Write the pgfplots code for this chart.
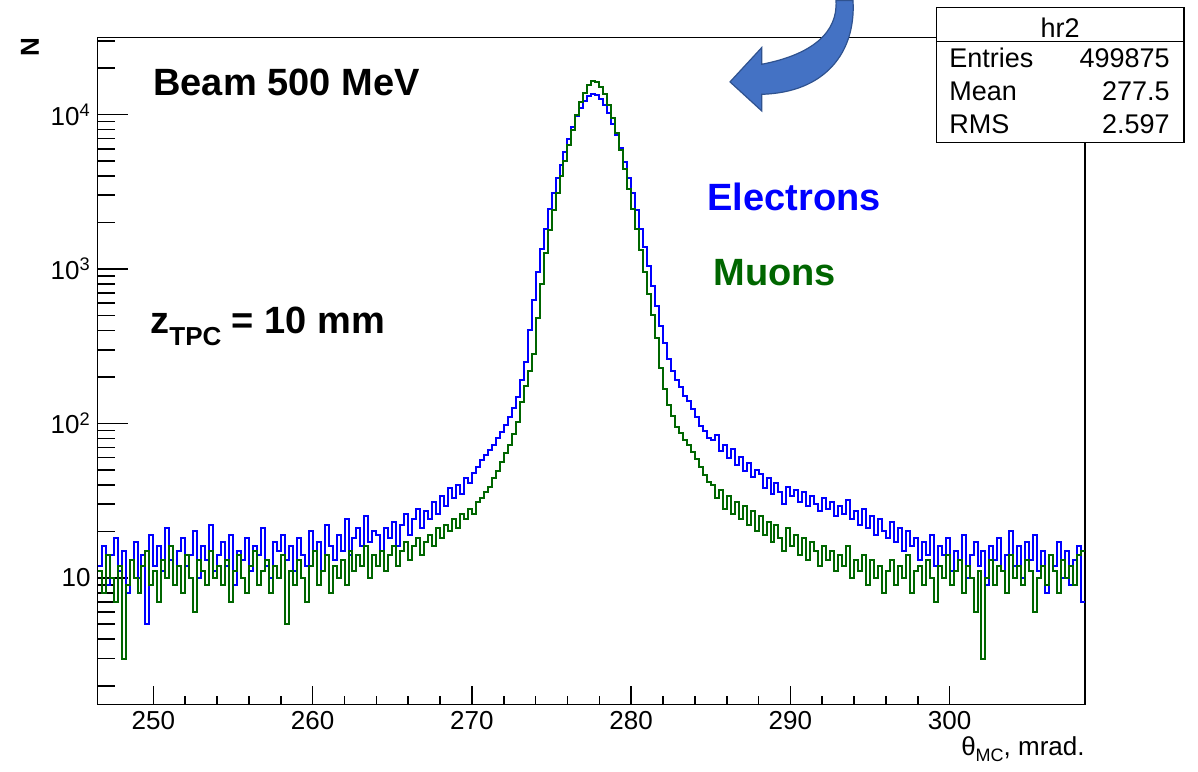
\documentclass[border=0pt]{standalone}
\usepackage{fontspec}
\setmainfont{Liberation Sans}
\usepackage{pgfplots}
\usepackage{pgfplotstable}
\pgfplotsset{compat=1.18}
\definecolor{rootblue}{rgb}{0,0,1}
\definecolor{rootgreen}{rgb}{0,0.4,0}
\definecolor{arrowfill}{RGB}{68,114,196}
\definecolor{arrowdraw}{RGB}{47,82,143}

% bin contents, bins of 0.25 mrad starting at 246.5 mrad
\pgfplotstableread{
blue green
12 11
16 8
9 14
14 10
18 7
11 12
15 3
8 9
13 13
17 10
10 8
14 12
5 15
19 9
12 11
16 7
11 13
21 10
13 16
9 9
15 12
18 8
12 14
14 10
20 6
10 13
16 11
13 9
22 15
11 10
14 12
17 9
12 13
19 7
9 11
15 14
13 10
18 8
11 12
16 15
14 9
21 11
12 13
10 8
17 12
15 10
19 14
13 5
16 11
11 9
18 13
14 10
12 7
20 12
15 15
17 9
11 11
22 14
16 8
13 12
19 10
15 13
24 9
14 15
18 11
21 14
16 12
25 16
17 10
20 14
19 12
15 15
21 11
18 14
23 16
16 12
22 15
26 17
19 13
24 16
28 18
21 14
27 17
24 19
31 16
26 21
34 18
29 22
38 20
33 24
40 21
35 26
44 24
41 28
48 26
52 31
58 33
62 36
67 39
73 44
80 49
88 56
98 64
110 73
125 85
148 102
190 138
250 174
400 219
630 282
950 479
1350 794
1820 1260
2450 1780
3090 2400
3890 3090
4680 3980
5750 5010
6920 6310
8320 7940
9770 10000
11100 12000
12300 13800
13200 15500
13500 16400
13300 16200
12600 15100
11500 13500
10200 11500
8700 9550
7400 7590
6030 5890
4900 4470
3890 3310
3090 2450
2400 1820
1820 1320
1380 955
1050 692
780 501
575 355
430 229
330 166
263 132
219 112
190 95
172 87
150 78
140 72
124 65
110 59
96 52
89 46
80 42
78 40
84 33
66 37
72 28
60 34
68 26
54 31
61 24
49 29
55 22
45 27
50 20
47 25
38 19
44 23
35 17
41 22
36 18
30 15
39 21
34 16
37 19
31 14
36 18
29 13
34 17
30 15
27 12
33 16
28 13
31 15
25 11
29 14
26 12
32 16
24 10
27 13
22 11
28 14
21 9
25 13
19 10
24 12
20 8
18 11
23 13
17 9
21 12
15 10
20 14
16 8
18 11
13 12
17 9
14 13
19 10
12 7
16 12
14 10
18 14
11 9
15 11
13 13
19 8
10 12
14 10
17 6
12 11
15 3
9 10
16 13
13 9
18 12
11 11
14 8
20 14
12 10
16 12
10 9
17 13
13 11
19 6
11 10
15 12
8 9
14 14
12 11
17 8
10 13
15 10
9 12
13 9
16 14
7 15
7 15
}\histdata

\newcommand{\bigfont}{\fontsize{19}{22}\bfseries\selectfont}
\newcommand{\statfont}{\fontsize{13.5}{16}\selectfont}

\begin{document}
\begin{tikzpicture}
\begin{scope}[shift={(-48.85pt,351pt)}, x=0.5pt, y=-0.5pt]
  \path[use as bounding box] (0,0) rectangle (1198,769);
\end{scope}
\begin{axis}[
  at={(0pt,0pt)}, anchor=south west,
  scale only axis, width=493.65pt, height=333.5pt,
  ymode=log,
  xmin=246.5, xmax=308.5, ymin=1.51, ymax=31500,
  axis line style={line width=0.8pt, black},
  tick pos=left, tick align=inside,
  xtick={250,260,270,280,290,300}, minor x tick num=4,
  ytick={10,100,1000,10000},
  yticklabels={10,10\textsuperscript{2},10\textsuperscript{3},10\textsuperscript{4}},
  minor ytick={2,3,4,5,6,7,8,9,20,30,40,50,60,70,80,90,200,300,400,500,600,700,800,900,2000,3000,4000,5000,6000,7000,8000,9000,20000,30000},
  xtick style={line width=0.8pt, black, /pgfplots/major tick length=9.5pt, /pgfplots/minor tick length=4.5pt},
  ytick style={line width=0.8pt, black, /pgfplots/major tick length=15pt, /pgfplots/minor tick length=8.5pt},
  /pgf/number format/assume math mode=true,
  tick label style={font=\fontsize{13}{15}\selectfont},
]
\addplot[const plot, rootblue, line width=1pt] table[x expr={246.5+0.25*\coordindex}, y=blue]{\histdata};
\addplot[const plot, rootgreen, line width=1pt] table[x expr={246.5+0.25*\coordindex}, y=green]{\histdata};
\end{axis}
\begin{scope}[shift={(-48.85pt,351pt)}, x=0.5pt, y=-0.5pt]
  % curved arrow
  \filldraw[fill=arrowfill, draw=arrowdraw, line width=0.6pt]
    (836,-2) -- (853,-2) .. controls (856,50) and (825,90) .. (761.7,91.7)
    -- (761.7,108.3) -- (730,79.3) -- (761.7,45) -- (761.7,61.7)
    .. controls (812,52) and (838,30) .. (836,-2) -- cycle;
  % stats box
  \draw[fill=white, line width=0.6pt] (936.7,5.3) rectangle (1184,140);
  \draw[line width=0.6pt] (936.7,39.3) -- (1184,39.3);
  \node[anchor=base, inner sep=0, font=\statfont] at (1060,35) {hr2};
  \node[anchor=base west, inner sep=0, font=\statfont] at (949,65) {Entries};
  \node[anchor=base east, inner sep=0, font=\statfont] at (1170,65) {499875};
  \node[anchor=base west, inner sep=0, font=\statfont] at (949,98) {Mean};
  \node[anchor=base east, inner sep=0, font=\statfont] at (1170,98) {277.5};
  \node[anchor=base west, inner sep=0, font=\statfont] at (949,131) {RMS};
  \node[anchor=base east, inner sep=0, font=\statfont] at (1170,131) {2.597};
  % annotations
  \node[anchor=base west, inner sep=0, font=\bigfont] at (153,93) {Beam 500 MeV};
  \node[anchor=base west, inner sep=0, font=\bigfont, text=rootblue] at (707,208) {Electrons};
  \node[anchor=base west, inner sep=0, font=\bigfont, text=rootgreen] at (713,283) {Muons};
  \node[anchor=base west, inner sep=0, font=\bigfont] at (150,331) {z\raisebox{-6pt}{\fontsize{13}{13}\bfseries\selectfont TPC} = 10 mm};
  % axis titles
  \node[rotate=90, inner sep=0, font=\fontsize{13}{13}\bfseries\selectfont] at (30,44.5) {N};
  \node[anchor=base east, inner sep=0, font=\fontsize{13}{13}\selectfont] at (1085,753) {θ\raisebox{-3pt}{\fontsize{9}{9}\selectfont MC}, mrad.};
\end{scope}
\end{tikzpicture}
\end{document}
